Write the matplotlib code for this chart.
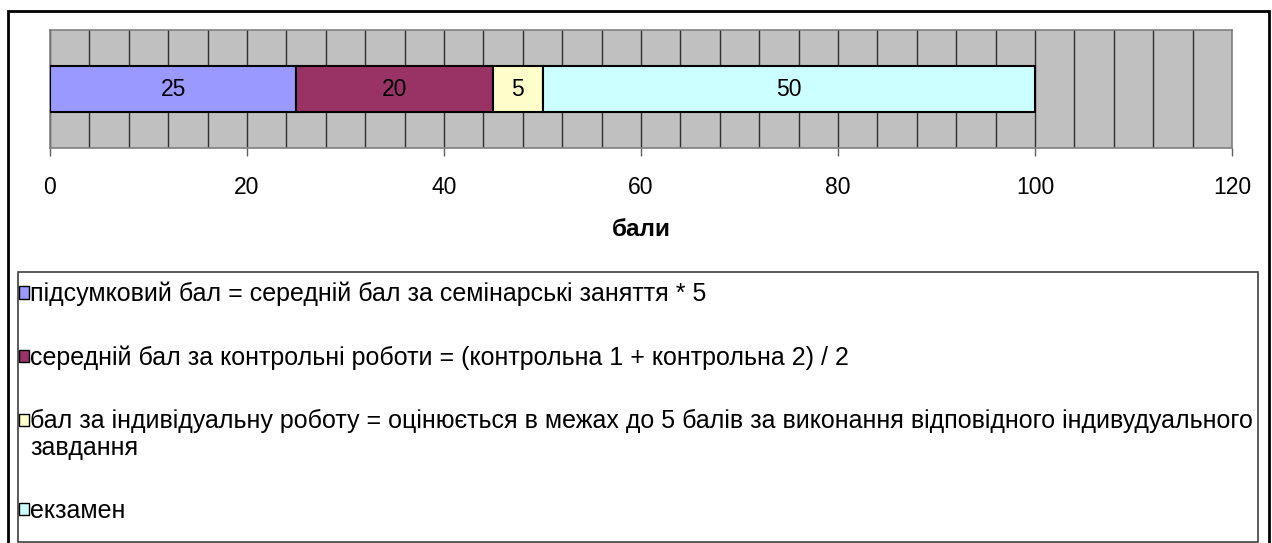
import matplotlib.pyplot as plt
from matplotlib.patches import Rectangle
from matplotlib.legend_handler import HandlerPatch

plt.rcParams['font.family'] = ['Liberation Sans', 'DejaVu Sans']

# data
labels = ['підсумковий бал = середній бал за семінарські заняття * 5',
          'середній бал за контрольні роботи = (контрольна 1 + контрольна 2) / 2',
          'бал за індивідуальну роботу = оцінюється в межах до 5 балів за виконання відповідного індивудуального\nзавдання',
          'екзамен']
values = [25, 20, 5, 50]
colors = ['#9999FF', '#993366', '#FFFFCC', '#CCFFFF']
x_ticks = [0, 20, 40, 60, 80, 100, 120]


class TopHandler(HandlerPatch):
    # put the square next to the first line of a wrapped label
    def __init__(self, shift, **kw):
        super().__init__(**kw)
        self.shift = shift

    def create_artists(self, legend, orig_handle, xdescent, ydescent,
                       width, height, fontsize, trans):
        return super().create_artists(legend, orig_handle, xdescent,
                                      ydescent - self.shift, width, height,
                                      fontsize, trans)


W, H = 1272, 543
fig = plt.figure(figsize=(W / 100, H / 100), dpi=100)
ax = fig.add_axes([50 / W, 1 - 148 / H, 1182 / W, 118 / H])
ax.set_facecolor('#C0C0C0')

left = 0
handles = []
for v, c, lab in zip(values, colors, labels):
    bars = ax.barh(0, v, left=left, height=0.39, color=c, edgecolor='black',
                   lw=1.5, label=lab, zorder=3)
    ax.bar_label(bars, label_type='center', fontsize=16.5)
    handles.append(bars.patches[0])
    left += v

ax.set_xlim(0, 120)
ax.set_ylim(-0.5, 0.5)
ax.set_yticks([])
ax.set_xticks(x_ticks)
ax.set_xticks(range(0, 121, 4), minor=True)
ax.grid(which='both', axis='x', color='#303030', lw=1)
ax.set_axisbelow(True)
ax.tick_params(axis='x', which='major', length=6, width=1, color='#606060',
               pad=14, labelsize=16.5)
ax.tick_params(axis='x', which='minor', length=0)
for s in ax.spines.values():
    s.set_color('#808080')
    s.set_linewidth(1.2)

ax.set_xlabel('бали', fontsize=17.5, fontweight='bold', va='center')
ax.xaxis.set_label_coords(0.5, (148 - 229) / 118)

# legend box
fig.patches.append(Rectangle((18 / W, 1 - 542 / H), (1258 - 18) / W, (542 - 272) / H,
                             transform=fig.transFigure, fill=False,
                             ec='#404040', lw=1.2))
leg = fig.legend(handles, labels, loc='upper left',
                 bbox_to_anchor=(19 / W, 1 - 282 / H),
                 frameon=False, fontsize=18, borderpad=0, borderaxespad=0,
                 handlelength=0.38, handleheight=0.38, handletextpad=0.06,
                 labelspacing=1.55,
                 handler_map={handles[2]: TopHandler(10.8)})
for p in leg.get_patches():
    p.set_linewidth(1)

# outer border
fig.patches.append(Rectangle((8 / W, -0.01), (1269 - 8) / W, 1 - 11 / H + 0.01,
                             transform=fig.transFigure, fill=False,
                             ec='black', lw=2))

fig.savefig('out.png', dpi=100)
